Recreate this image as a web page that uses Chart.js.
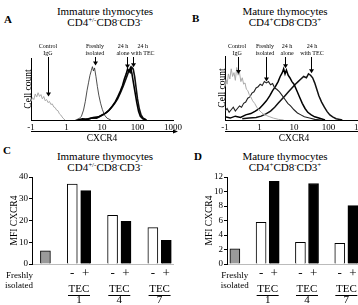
<!DOCTYPE html>
<html>
<head>
<meta charset="utf-8">
<script src="https://cdn.jsdelivr.net/npm/chart.js@4.4.1/dist/chart.umd.min.js"></script>
<style>
html, body { margin: 0; padding: 0; width: 358px; height: 305px; overflow: hidden; background: #fff; }
body { position: relative; font-family: "Liberation Serif", "Times New Roman", serif; color: #000; }
canvas { position: absolute; }
.ttl { position: absolute; transform: translateX(-50%); text-align: center; font-size: 11px; line-height: 11px; white-space: nowrap; }
.ttl sup { font-size: 7px; line-height: 0; vertical-align: 4px; }
.tag { position: absolute; font-weight: bold; font-size: 11px; line-height: 11px; }
</style>
</head>
<body>
<div class="tag" style="left:4px;top:14px">A</div>
<div class="ttl" style="left:105px;top:6px">Immature thymocytes<br>CD4<sup>+/-</sup>CD8<sup>-</sup>CD3<sup>-</sup></div>
<div class="tag" style="left:192px;top:13px">B</div>
<div class="ttl" style="left:285px;top:6px">Mature thymocytes<br>CD4<sup>+</sup>CD8<sup>-</sup>CD3<sup>+</sup></div>
<div class="tag" style="left:3px;top:145px">C</div>
<div class="ttl" style="left:105px;top:151px">Immature thymocytes<br>CD4<sup>+/-</sup>CD8<sup>-</sup>CD3<sup>-</sup></div>
<div class="tag" style="left:194px;top:151px">D</div>
<div class="ttl" style="left:285px;top:151px">Mature thymocytes<br>CD4<sup>+</sup>CD8<sup>-</sup>CD3<sup>+</sup></div>

<canvas id="histA" width="185" height="150" style="left:0;top:0"></canvas>
<canvas id="histB" width="200" height="150" style="left:178px;top:0"></canvas>
<canvas id="barC" width="179" height="135" style="left:0;top:170px"></canvas>
<canvas id="barD" width="200" height="135" style="left:178px;top:170px"></canvas>

<script>
const FONT = '"Liberation Serif", "Times New Roman", serif';
Chart.defaults.font.family = FONT;
Chart.defaults.color = '#000';

// x positions are in decades: 0 = "-1", 1 = "1", 2 = "10", 3 = "100", 4 = "1000"
const cxcrTicks = ['-1', '1', '10', '100', '1000'];

// Panel A, immature thymocytes: [decade, cell count]
const aControl = [[0,30],[0.04,36],[0.08,33],[0.12,42],[0.16,37],[0.2,44],[0.24,38],[0.28,41],[0.32,34],[0.36,38],[0.4,31],[0.44,33],[0.48,28],[0.52,30],[0.56,25],[0.6,26],[0.64,21],[0.68,20],[0.72,16],[0.76,15],[0.8,10],[0.84,8],[0.9,3],[0.96,0]];
const aFresh = [[1.25,0],[1.35,2],[1.42,6],[1.48,16],[1.53,30],[1.58,48],[1.62,60],[1.66,72],[1.7,80],[1.73,86],[1.76,79],[1.79,84],[1.83,70],[1.87,54],[1.91,40],[1.96,27],[2.01,17],[2.07,8],[2.14,3],[2.25,0]];
const aAlone = [[1.3,0],[1.45,2],[1.6,1],[1.75,4],[1.9,5],[2.0,8],[2.1,11],[2.2,16],[2.3,23],[2.38,30],[2.45,38],[2.52,47],[2.58,56],[2.63,66],[2.68,74],[2.72,82],[2.76,78],[2.8,84],[2.84,76],[2.88,62],[2.93,45],[2.98,28],[3.03,14],[3.08,6],[3.15,2],[3.25,0]];
const aTec = [[1.4,0],[1.55,1],[1.7,3],[1.85,3],[1.95,6],[2.05,9],[2.15,13],[2.25,19],[2.35,26],[2.44,34],[2.52,44],[2.6,55],[2.66,64],[2.71,72],[2.76,80],[2.8,77],[2.84,85],[2.88,82],[2.92,70],[2.96,52],[3.0,34],[3.05,18],[3.1,8],[3.16,3],[3.25,0]];

// Panel B, mature thymocytes
const bControl = [[0,52],[0.03,63],[0.06,56],[0.1,72],[0.14,64],[0.18,80],[0.22,68],[0.26,74],[0.3,62],[0.34,82],[0.38,70],[0.42,74],[0.46,60],[0.5,66],[0.54,56],[0.58,58],[0.62,48],[0.66,46],[0.7,40],[0.75,36],[0.8,30],[0.86,26],[0.92,20],[0.98,16],[1.05,12],[1.12,9],[1.2,7],[1.3,5],[1.4,3],[1.55,1],[1.7,0]];
const bFresh = [[0,14],[0.06,18],[0.12,12],[0.18,16],[0.24,20],[0.3,14],[0.36,18],[0.42,22],[0.48,20],[0.54,26],[0.6,28],[0.66,34],[0.72,36],[0.78,42],[0.84,44],[0.9,50],[0.96,52],[1.02,56],[1.08,54],[1.14,60],[1.2,58],[1.26,60],[1.32,55],[1.38,57],[1.44,50],[1.5,48],[1.58,44],[1.66,38],[1.74,32],[1.82,26],[1.9,22],[2.0,16],[2.1,11],[2.2,8],[2.3,5],[2.45,3],[2.6,1],[2.8,0]];
const bAlone = [[0,5],[0.15,3],[0.3,6],[0.45,4],[0.6,8],[0.75,10],[0.88,14],[1.0,18],[1.1,24],[1.2,30],[1.3,38],[1.38,46],[1.46,52],[1.54,60],[1.6,68],[1.66,74],[1.7,80],[1.74,72],[1.78,78],[1.83,70],[1.88,66],[1.94,60],[2.0,56],[2.08,46],[2.16,36],[2.24,26],[2.32,18],[2.4,12],[2.5,8],[2.6,5],[2.72,3],[2.9,0]];
const bTec = [[0.5,2],[0.7,3],[0.9,4],[1.05,6],[1.2,10],[1.32,14],[1.44,20],[1.54,26],[1.64,32],[1.74,38],[1.84,44],[1.94,50],[2.04,56],[2.12,60],[2.2,64],[2.28,68],[2.36,66],[2.42,72],[2.48,70],[2.54,66],[2.6,58],[2.66,48],[2.72,38],[2.8,28],[2.88,20],[2.96,13],[3.04,8],[3.12,5],[3.22,2],[3.4,0]];

// arrow labels: text lines, label centre, arrow position, arrow tip (cell count)
const aMarks = [
    { text: ['Control', 'IgG'], label: 0.48, at: 0.48, tip: 38 },
    { text: ['Freshly', 'isolated'], label: 1.8, at: 1.8, tip: 88 },
    { text: ['24 h', 'alone'], label: 2.59, at: 2.7, tip: 83 },
    { text: ['24 h', 'with TEC'], label: 3.15, at: 2.87, tip: 85 }
];
const bMarks = [
    { text: ['Control', 'IgG'], label: 0.35, at: 0.38, tip: 72 },
    { text: ['Freshly', 'isolated'], label: 1.16, at: 1.19, tip: 60 },
    { text: ['24 h', 'alone'], label: 1.8, at: 1.74, tip: 81 },
    { text: ['24 h', 'with TEC'], label: 2.52, at: 2.49, tip: 73 }
];

// Panels C and D: MFI of CXCR4
const freshLabel = ['Freshly', 'isolated'];
const signLabels = ['-', '+'];
const tecDays = ['1', '4', '7'];
const cFresh = 6.1;
const cMinus = [36.8, 22.4, 16.7];
const cPlus = [33.7, 19.6, 10.9];
const dFresh = 2.1;
const dMinus = [5.75, 3.0, 2.85];
const dPlus = [11.4, 11.1, 8.05];

const histMarks = {
    id: 'histMarks',
    afterDraw(chart, args, opts) {
        const { ctx, chartArea } = chart;
        const x = chart.scales.x, y = chart.scales.y;
        ctx.save();
        ctx.fillStyle = '#000';
        ctx.strokeStyle = '#000';
        ctx.lineWidth = 1;
        ctx.font = '6px ' + FONT;
        ctx.textAlign = 'center';
        ctx.textBaseline = 'middle';
        opts.marks.forEach(m => {
            const lx = x.getPixelForValue(m.label);
            const ax = Math.round(x.getPixelForValue(m.at)) + 0.5;
            const ty = y.getPixelForValue(m.tip);
            ctx.fillText(m.text[0], lx, 46);
            ctx.fillText(m.text[1], lx, 53);
            ctx.beginPath();
            ctx.moveTo(ax, 57);
            ctx.lineTo(ax, ty - 3);
            ctx.stroke();
            ctx.beginPath();
            ctx.moveTo(ax - 2.5, ty - 4);
            ctx.lineTo(ax + 2.5, ty - 4);
            ctx.lineTo(ax, ty);
            ctx.closePath();
            ctx.fill();
        });
        // CXCR4 arrow under the axis
        const ly = Math.round(chartArea.bottom + 11) + 0.5;
        const ex = chartArea.right + 2;
        ctx.beginPath();
        ctx.moveTo(chartArea.left, ly);
        ctx.lineTo(ex, ly);
        ctx.stroke();
        ctx.beginPath();
        ctx.moveTo(ex + 3, ly);
        ctx.lineTo(ex - 2, ly - 2);
        ctx.lineTo(ex - 2, ly + 2);
        ctx.closePath();
        ctx.fill();
        ctx.restore();
    }
};

function histChart(id, series, marks, pad) {
    new Chart(document.getElementById(id), {
        type: 'line',
        data: {
            datasets: series.map(s => ({
                data: s.data,
                borderColor: s.color,
                borderWidth: s.width,
                pointRadius: 0,
                tension: 0,
                fill: false
            }))
        },
        options: {
            responsive: false,
            animation: false,
            layout: { padding: pad },
            plugins: {
                legend: { display: false },
                tooltip: { enabled: false },
                histMarks: { marks: marks }
            },
            scales: {
                x: {
                    type: 'linear',
                    min: 0,
                    max: 4,
                    grid: { display: false, drawTicks: false },
                    border: { display: true, color: '#000' },
                    ticks: {
                        stepSize: 1,
                        autoSkip: false,
                        maxRotation: 0,
                        padding: 2,
                        font: { size: 9 },
                        callback: function(value) { return cxcrTicks[value]; }
                    },
                    title: { display: true, text: 'CXCR4', padding: 0, font: { size: 9.5, lineHeight: 1 } },
                    afterFit: s => { s.height = 23; }
                },
                y: {
                    min: 0,
                    max: 100,
                    grid: { display: false, drawTicks: false },
                    border: { display: true, color: '#000' },
                    ticks: { display: false },
                    title: { display: true, text: 'Cell count', padding: 0, font: { size: 9.5, lineHeight: 1 } },
                    afterFit: s => { s.width = 7; }
                }
            }
        },
        plugins: [histMarks]
    });
}

histChart('histA', [
    { data: aControl, color: '#aaaaaa', width: 1 },
    { data: aFresh, color: '#222', width: 0.8 },
    { data: aAlone, color: '#000', width: 1.6 },
    { data: aTec, color: '#111', width: 1.6 }
], aMarks, { left: 24, top: 58, right: 12, bottom: 7 });

histChart('histB', [
    { data: bControl, color: '#aaaaaa', width: 1 },
    { data: bFresh, color: '#222', width: 1.1 },
    { data: bAlone, color: '#000', width: 1.5 },
    { data: bTec, color: '#111', width: 1.5 }
], bMarks, { left: 40, top: 56, right: 15, bottom: 7 });

const barExtras = {
    id: 'barExtras',
    afterDraw(chart, args, opts) {
        const { ctx, chartArea } = chart;
        const x = chart.scales.x, x2 = chart.scales.x2;
        ctx.save();
        ctx.fillStyle = '#000';
        ctx.strokeStyle = '#000';
        ctx.lineWidth = 1;
        ctx.font = '9px ' + FONT;
        ctx.textBaseline = 'middle';
        ctx.textAlign = opts.align;
        const fx = opts.align === 'right' ? chartArea.left + 1 : x.getPixelForValue(1);
        ctx.fillText(freshLabel[0], fx, chartArea.bottom + 12);
        ctx.fillText(freshLabel[1], fx, chartArea.bottom + 22);
        const uy = Math.round(chartArea.bottom + 31) + 0.5;
        x2.ticks.forEach(t => {
            const px = x2.getPixelForValue(t.value);
            ctx.beginPath();
            ctx.moveTo(px - 11, uy);
            ctx.lineTo(px + 11, uy);
            ctx.stroke();
        });
        ctx.restore();
    }
};

function barChart(id, fresh, minus, plus, yMax, step, xMin, xMax, yWidth, pad, align) {
    const common = { borderColor: '#000', borderWidth: 1, barThickness: 10, grouped: false };
    new Chart(document.getElementById(id), {
        type: 'bar',
        data: {
            datasets: [
                Object.assign({ data: [{ x: 1, y: fresh }], backgroundColor: '#9a9a9a' }, common),
                Object.assign({ data: minus.map((v, i) => ({ x: 3 + 3 * i, y: v })), backgroundColor: '#fff' }, common),
                Object.assign({ data: plus.map((v, i) => ({ x: 4 + 3 * i, y: v })), backgroundColor: '#000' }, common)
            ]
        },
        options: {
            responsive: false,
            animation: false,
            layout: { padding: pad },
            plugins: {
                legend: { display: false },
                tooltip: { enabled: false },
                barExtras: { align: align }
            },
            scales: {
                x: {
                    type: 'linear',
                    min: xMin,
                    max: xMax,
                    offset: false,
                    weight: 0,
                    grid: { display: false, drawTicks: false, offset: false },
                    border: { display: true, color: '#bbbbbb' },
                    afterBuildTicks: s => { s.ticks = [3, 4, 6, 7, 9, 10].map(v => ({ value: v })); },
                    ticks: {
                        autoSkip: false,
                        maxRotation: 0,
                        padding: 3,
                        font: { size: 13, lineHeight: 1 },
                        callback: function(value) { return signLabels[value % 3 === 0 ? 0 : 1]; }
                    },
                    afterFit: s => { s.height = 17; }
                },
                x2: {
                    type: 'linear',
                    position: 'bottom',
                    min: xMin,
                    max: xMax,
                    offset: false,
                    weight: 1,
                    grid: { display: false, drawTicks: false, offset: false },
                    border: { display: false },
                    afterBuildTicks: s => { s.ticks = [3.5, 6.5, 9.5].map(v => ({ value: v })); },
                    ticks: {
                        autoSkip: false,
                        maxRotation: 0,
                        padding: 3,
                        font: { size: 11, lineHeight: 1 },
                        callback: function(value, index) { return ['TEC', tecDays[index]]; }
                    },
                    afterFit: s => { s.height = 24; }
                },
                y: {
                    min: 0,
                    max: yMax,
                    grid: { display: true, drawOnChartArea: false, tickLength: 3, color: '#000' },
                    border: { display: true, color: '#000' },
                    ticks: { stepSize: step, padding: 1, font: { size: 9 } },
                    title: { display: true, text: 'MFI CXCR4', padding: 0, font: { size: 9.5, lineHeight: 1 } },
                    afterFit: s => { s.width = yWidth; }
                }
            }
        },
        plugins: [barExtras]
    });
}

barChart('barC', cFresh, cMinus, cPlus, 40, 5, 0, 10.5, 22, { left: 10, top: 7, right: 6, bottom: 0 }, 'right');
barChart('barD', dFresh, dMinus, dPlus, 12, 2, 0.4, 11, 22, { left: 27, top: 7, right: 12, bottom: 0 }, 'center');
</script>
</body>
</html>
